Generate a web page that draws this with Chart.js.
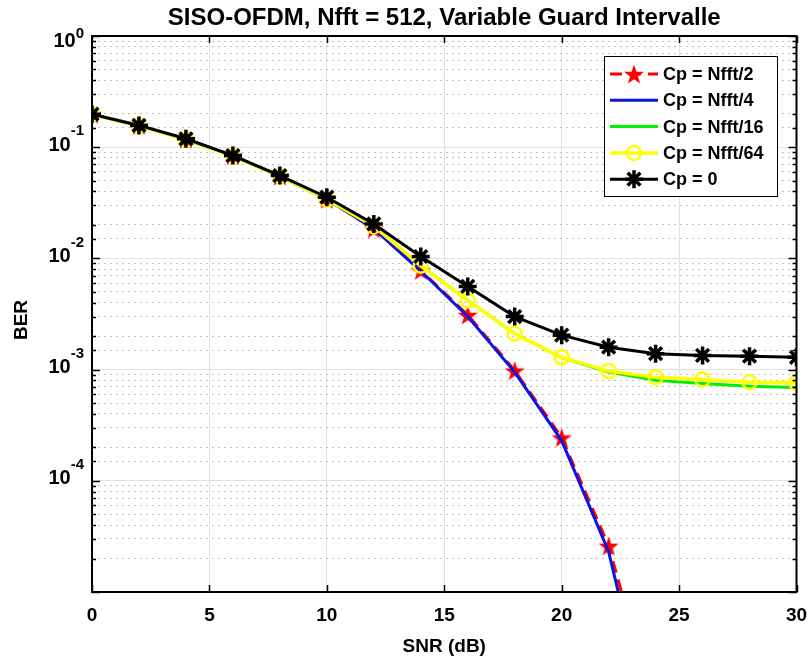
<!DOCTYPE html>
<html>
<head>
<meta charset="utf-8">
<script src="https://cdn.jsdelivr.net/npm/chart.js@4.4.1/dist/chart.umd.min.js"></script>
<style>
  html, body { margin: 0; padding: 0; background: #fff; }
</style>
</head>
<body>
<canvas id="berChart" width="809" height="662"></canvas>
<script>
// SNR in dB
const snrDb = [0, 2, 4, 6, 8, 10, 12, 14, 16, 18, 20, 22, 24, 26, 28, 30];

// BER per cyclic prefix length
const berHalf = [0.198, 0.157, 0.118, 0.084, 0.055, 0.034, 0.0185, 0.0078, 0.0031, 0.00098, 0.000245, 0.000026, 8e-7, null, null, null];
const berQuarter = [0.198, 0.157, 0.118, 0.084, 0.055, 0.034, 0.0185, 0.0077, 0.0030, 0.00095, 0.00023, 0.000023, 4e-7, null, null, null];
const berSixteenth = [0.197, 0.156, 0.117, 0.083, 0.055, 0.034, 0.0195, 0.0086, 0.0042, 0.0021, 0.00128, 0.00095, 0.00080, 0.00075, 0.00071, 0.00069];
const berSixtyFourth = [0.197, 0.156, 0.117, 0.083, 0.055, 0.034, 0.0195, 0.0086, 0.00418, 0.0021, 0.00129, 0.00097, 0.000855, 0.000815, 0.00077, 0.00076];
const berNoCp = [0.198, 0.157, 0.119, 0.084, 0.0556, 0.0355, 0.0204, 0.0104, 0.0056, 0.0030, 0.00204, 0.00159, 0.00139, 0.00134, 0.00132, 0.00129];

const seriesLabels = ['Cp = Nfft/2', 'Cp = Nfft/4', 'Cp = Nfft/16', 'Cp = Nfft/64', 'Cp = 0'];
const xTicks = [0, 5, 10, 15, 20, 25, 30];
const yDecades = [0, -1, -2, -3, -4];

const FONT = '"Liberation Sans", Arial, sans-serif';

// filled five-point star (matlab 'p' marker)
function makePentagram(size, color) {
  const c = document.createElement('canvas');
  c.width = size; c.height = size;
  const g = c.getContext('2d');
  const R = size / 2 - 0.5, r = R * 0.40;
  const cx = size / 2, cy = size / 2 + size * 0.05;
  g.beginPath();
  for (let i = 0; i < 10; i++) {
    const a = -Math.PI / 2 + i * Math.PI / 5;
    const rr = i % 2 ? r : R;
    const px = cx + rr * Math.cos(a), py = cy + rr * Math.sin(a);
    i ? g.lineTo(px, py) : g.moveTo(px, py);
  }
  g.closePath();
  g.fillStyle = color;
  g.fill();
  return c;
}
const redStar = makePentagram(22, '#ff0000');

function toPoints(ys) {
  return snrDb.map((x, i) => ({ x, y: ys[i] }));
}

const datasets = [
  {
    label: seriesLabels[0], data: toPoints(berHalf), order: 5,
    borderColor: '#ff0000', borderWidth: 3, borderDash: [12, 7],
    pointStyle: redStar, pointRadius: 8, pointHoverRadius: 8
  },
  {
    label: seriesLabels[1], data: toPoints(berQuarter), order: 4,
    borderColor: '#0a14e6', borderWidth: 3, pointRadius: 0
  },
  {
    label: seriesLabels[2], data: toPoints(berSixteenth), order: 3,
    borderColor: '#00f000', borderWidth: 3, pointRadius: 0
  },
  {
    label: seriesLabels[3], data: toPoints(berSixtyFourth), order: 2,
    borderColor: '#ffff00', borderWidth: 3.5,
    pointStyle: 'circle', pointRadius: 7, pointBorderWidth: 2.5,
    pointBackgroundColor: 'rgba(0,0,0,0)', pointBorderColor: '#ffff00'
  },
  {
    label: seriesLabels[4], data: toPoints(berNoCp), order: 1,
    borderColor: '#000000', borderWidth: 3,
    pointStyle: 'star', pointRadius: 9, pointBorderWidth: 3.5,
    pointBorderColor: '#000000', pointBackgroundColor: '#000000'
  }
];

function isDecade(v) {
  const l = Math.log10(v);
  return Math.abs(l - Math.round(l)) < 1e-6;
}

// matlab style box, inward ticks, 10^k labels and legend
const matlabAxes = {
  id: 'matlabAxes',
  afterDatasetsDraw(chart) {
    const { ctx, chartArea: a } = chart;
    const xs = chart.scales.x, ys = chart.scales.y;
    ctx.save();
    ctx.strokeStyle = '#000';
    ctx.lineWidth = 1.5;
    ctx.beginPath();
    xTicks.forEach(v => {
      const px = Math.round(xs.getPixelForValue(v)) + 0.5;
      ctx.moveTo(px, a.bottom); ctx.lineTo(px, a.bottom - 7);
      ctx.moveTo(px, a.top); ctx.lineTo(px, a.top + 7);
    });
    ys.ticks.forEach(t => {
      const py = Math.round(ys.getPixelForValue(t.value)) + 0.5;
      const len = isDecade(t.value) ? 8 : 4;
      ctx.moveTo(a.left, py); ctx.lineTo(a.left + len, py);
      ctx.moveTo(a.right, py); ctx.lineTo(a.right - len, py);
    });
    ctx.stroke();
    ctx.lineWidth = 2;
    ctx.strokeRect(a.left, a.top, a.right - a.left, a.bottom - a.top);

    // y labels 10^k
    ctx.fillStyle = '#000';
    ctx.textAlign = 'right';
    ctx.textBaseline = 'middle';
    yDecades.forEach(e => {
      const py = ys.getPixelForValue(Math.pow(10, e));
      let baseY = py - 2, supY = baseY - 14;
      if (supY < a.top - 2) { supY = a.top - 2; baseY = a.top + 5.5; }
      const sup = String(e);
      ctx.font = 'bold 15px ' + FONT;
      const sw = ctx.measureText(sup).width;
      ctx.fillText(sup, 84, supY);
      ctx.font = 'bold 20px ' + FONT;
      ctx.fillText('10', 84 - sw, baseY);
    });

    // legend
    const lx = 604, ly = 56, lw = 173, lh = 140;
    ctx.fillStyle = '#fff';
    ctx.fillRect(lx, ly, lw, lh);
    ctx.strokeStyle = '#000';
    ctx.lineWidth = 1;
    ctx.strokeRect(lx + 0.5, ly + 0.5, lw, lh);
    chart.data.datasets.forEach((ds, i) => {
      const cy = ly + 18 + i * 26.3;
      ctx.save();
      ctx.strokeStyle = ds.borderColor;
      ctx.lineWidth = ds.borderWidth;
      ctx.setLineDash(ds.borderDash || []);
      ctx.beginPath();
      ctx.moveTo(610, cy); ctx.lineTo(658, cy);
      ctx.stroke();
      ctx.restore();
      if (ds.pointRadius > 0) {
        ctx.save();
        ctx.strokeStyle = ds.pointBorderColor || ds.borderColor;
        ctx.fillStyle = ds.pointBackgroundColor || ds.borderColor;
        ctx.lineWidth = ds.pointBorderWidth || 1;
        Chart.helpers.drawPoint(ctx, { pointStyle: ds.pointStyle, radius: ds.pointRadius, rotation: 0, borderWidth: ctx.lineWidth }, 634, cy);
        ctx.restore();
      }
      ctx.fillStyle = '#000';
      ctx.textAlign = 'left';
      ctx.textBaseline = 'middle';
      ctx.font = 'bold 18px ' + FONT;
      ctx.fillText(ds.label, 663, cy + 1);
    });

    // y axis title
    ctx.save();
    ctx.translate(22, 320);
    ctx.rotate(-Math.PI / 2);
    ctx.textAlign = 'center';
    ctx.font = 'bold 19px ' + FONT;
    ctx.fillText('BER', 0, 0);
    ctx.restore();
    ctx.restore();
  }
};

new Chart(document.getElementById('berChart'), {
  type: 'line',
  data: { datasets },
  plugins: [matlabAxes],
  options: {
    responsive: false,
    animation: false,
    events: [],
    layout: { padding: { left: 0, right: 12, top: 0, bottom: 0 } },
    elements: { line: { tension: 0 } },
    plugins: {
      legend: { display: false },
      tooltip: { enabled: false },
      title: {
        display: true,
        fullSize: false,
        text: 'SISO-OFDM, Nfft = 512, Variable Guard Intervalle',
        color: '#000',
        font: { family: FONT, size: 24, weight: 'bold', lineHeight: 1.2 },
        padding: { top: 4, bottom: 3.2 }
      }
    },
    scales: {
      x: {
        type: 'linear', min: 0, max: 30,
        afterFit: s => { s.height = 70; s.paddingRight = 0; s.paddingLeft = 0; },
        ticks: {
          stepSize: 5, color: '#000', padding: 12,
          font: { family: FONT, size: 19, weight: 'bold' }
        },
        grid: { color: '#e2e2e2', lineWidth: 1, drawTicks: false },
        border: { display: false },
        title: {
          display: true, text: 'SNR (dB)', color: '#000',
          font: { family: FONT, size: 19, weight: 'bold', lineHeight: 1.2 },
          padding: { top: 0, bottom: 4 }
        }
      },
      y: {
        type: 'logarithmic', min: 1e-5, max: 1,
        afterFit: s => { s.width = 92; s.paddingTop = 0; s.paddingBottom = 0; },
        ticks: { display: false, autoSkip: false },
        grid: {
          drawTicks: false, lineWidth: 1,
          color: c => (c.tick && !isDecade(c.tick.value)) ? '#c2c2c2' : '#e0e0e0'
        },
        border: {
          display: false,
          dash: c => (c.tick && !isDecade(c.tick.value)) ? [2, 4] : []
        }
      }
    }
  }
});
</script>
</body>
</html>
